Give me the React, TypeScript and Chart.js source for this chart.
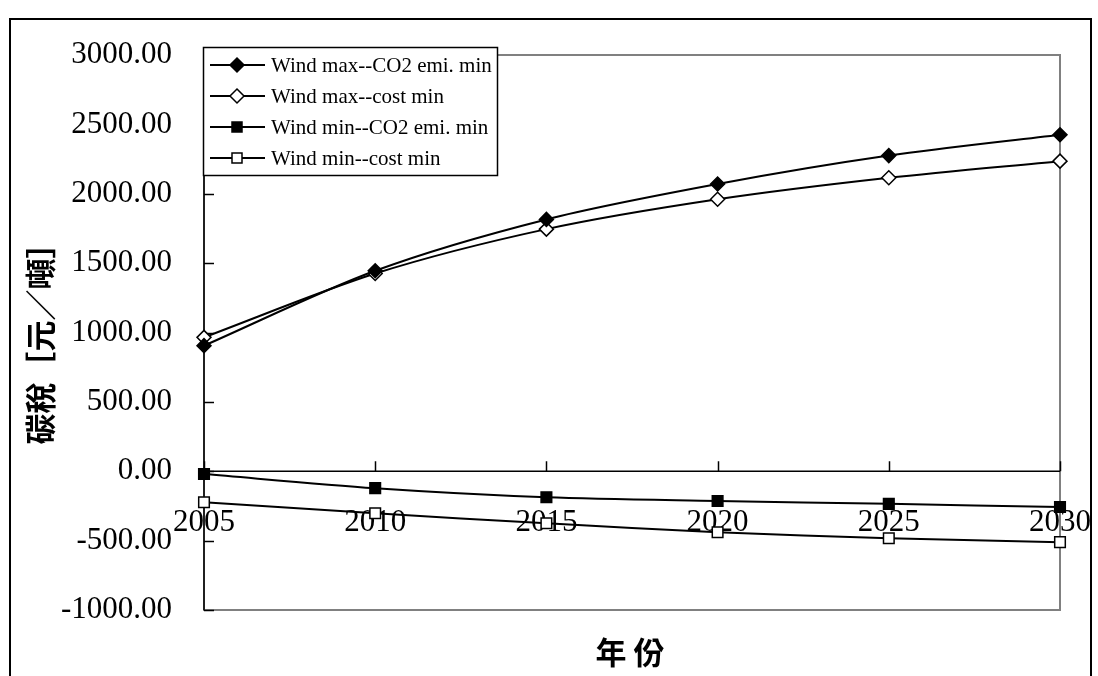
import React, { useEffect, useRef } from "react";
import { Chart, registerables } from "chart.js";

Chart.register(...registerables);

const years = ["2005", "2010", "2015", "2020", "2025", "2030"];
const windMaxCO2 = [905, 1445, 1815, 2070, 2275, 2425];
const windMaxCost = [965, 1425, 1745, 1960, 2115, 2235];
const windMinCO2 = [-20, -122, -187, -214, -235, -258];
const windMinCost = [-223, -303, -375, -440, -483, -511];
const seriesNames = [
  "Wind max--CO2 emi. min",
  "Wind max--cost min",
  "Wind min--CO2 emi. min",
  "Wind min--cost min",
];
const yMin = -1000;
const yMax = 3000;
const yStep = 500;
const yTitle = "碳稅［元／噸］";
const xTitle = "年份";

const SERIF = "'Liberation Serif', 'Times New Roman', serif";
const CJK = "'Noto Sans CJK TC', 'Noto Sans CJK SC', sans-serif";

const decorPlugin = {
  id: "decor",
  beforeDraw(chart: any) {
    const { ctx, chartArea: a } = chart;
    ctx.save();
    ctx.fillStyle = "#fff";
    ctx.fillRect(0, 0, chart.width, chart.height);
    // outer frame
    ctx.strokeStyle = "#000";
    ctx.lineWidth = 2;
    ctx.strokeRect(10, 19, 1081, 700);
    // plot frame
    ctx.strokeStyle = "#808080";
    ctx.lineWidth = 2;
    ctx.strokeRect(a.left, a.top, a.right - a.left, a.bottom - a.top);
    ctx.restore();
  },
  beforeDatasetsDraw(chart: any) {
    const { ctx, chartArea: a, scales } = chart;
    const xs = scales.x;
    const ys = scales.y;
    const y0 = ys.getPixelForValue(0);
    ctx.save();
    ctx.strokeStyle = "#000";
    ctx.lineWidth = 1.5;
    // y axis line
    ctx.beginPath();
    ctx.moveTo(a.left, a.top);
    ctx.lineTo(a.left, a.bottom);
    ctx.stroke();
    // y inward ticks
    for (let v = yMin; v <= yMax; v += yStep) {
      const p = Math.round(ys.getPixelForValue(v)) + 0.5;
      ctx.beginPath();
      ctx.moveTo(a.left, p);
      ctx.lineTo(a.left + 10, p);
      ctx.stroke();
    }
    // zero line (x axis)
    ctx.beginPath();
    ctx.moveTo(a.left, y0);
    ctx.lineTo(a.right, y0);
    ctx.stroke();
    // x ticks upward
    years.forEach((_, i) => {
      const px = Math.round(xs.getPixelForValue(i)) + 0.5;
      ctx.beginPath();
      ctx.moveTo(px, y0);
      ctx.lineTo(px, y0 - 10);
      ctx.stroke();
    });
    // x labels
    ctx.fillStyle = "#000";
    ctx.font = `31px ${SERIF}`;
    ctx.textAlign = "center";
    ctx.textBaseline = "middle";
    years.forEach((lab, i) => {
      ctx.fillText(lab, xs.getPixelForValue(i), y0 + 52);
    });
    // titles
    ctx.font = `bold 31px ${CJK}`;
    ctx.fillText(xTitle.split("").join(" "), 630, 652);
    ctx.save();
    ctx.translate(40, 336);
    ctx.rotate(-Math.PI / 2);
    ctx.fillText(yTitle, 0, 0);
    ctx.restore();
    ctx.restore();
  },
  afterDatasetsDraw(chart: any) {
    const { ctx } = chart;
    const bx = 203, by = 47, bw = 294, bh = 128;
    ctx.save();
    ctx.fillStyle = "#fff";
    ctx.fillRect(bx, by, bw, bh);
    ctx.strokeStyle = "#000";
    ctx.lineWidth = 1.5;
    ctx.strokeRect(bx + 0.5, by + 0.5, bw, bh);
    const rows = [65, 96, 127, 158];
    chart.data.datasets.forEach((ds: any, i: number) => {
      const y = rows[i];
      ctx.strokeStyle = "#000";
      ctx.lineWidth = 2;
      ctx.beginPath();
      ctx.moveTo(210, y);
      ctx.lineTo(265, y);
      ctx.stroke();
      ctx.fillStyle = ds.pointBackgroundColor;
      ctx.lineWidth = 1.5;
      ctx.beginPath();
      if (ds.pointStyle === "rectRot") {
        const r = 7;
        ctx.moveTo(237, y - r);
        ctx.lineTo(237 + r, y);
        ctx.lineTo(237, y + r);
        ctx.lineTo(237 - r, y);
        ctx.closePath();
      } else {
        const h = 5;
        ctx.rect(237 - h, y - h, 2 * h, 2 * h);
      }
      ctx.fill();
      ctx.stroke();
      ctx.fillStyle = "#000";
      ctx.font = `21px ${SERIF}`;
      ctx.textAlign = "left";
      ctx.textBaseline = "middle";
      ctx.fillText(seriesNames[i], 271, y + 1);
    });
    ctx.restore();
  },
};

export default function App() {
  const ref = useRef<HTMLCanvasElement | null>(null);
  useEffect(() => {
    document.body.style.margin = "0";
    const mk = (label: string, data: number[], style: string, filled: boolean) => ({
      label,
      data,
      borderColor: "#000",
      borderWidth: 2,
      pointStyle: style,
      pointRadius: style === "rect" ? 7.5 : 7,
      pointBorderWidth: 1.5,
      pointBorderColor: "#000",
      pointBackgroundColor: filled ? "#000" : "#fff",
      tension: 0.3,
      fill: false,
      clip: false,
    });
    const chart = new Chart(ref.current as HTMLCanvasElement, {
      type: "line",
      data: {
        labels: years,
        datasets: [
          mk(seriesNames[0], windMaxCO2, "rectRot", true),
          mk(seriesNames[1], windMaxCost, "rectRot", false),
          mk(seriesNames[2], windMinCO2, "rect", true),
          mk(seriesNames[3], windMinCost, "rect", false),
        ] as any,
      },
      options: {
        animation: false,
        responsive: false,
        devicePixelRatio: 1,
        layout: { padding: { left: 0, right: 38, top: 55, bottom: 66 } },
        plugins: { legend: { display: false }, tooltip: { enabled: false } },
        scales: {
          x: { display: false, offset: false },
          y: {
            min: yMin,
            max: yMax,
            afterFit: (s: any) => {
              s.width = 204;
            },
            grid: { display: false, drawTicks: false },
            border: { display: false },
            ticks: {
              stepSize: yStep,
              padding: 32,
              color: "#000",
              font: { family: SERIF, size: 31 },
              callback: (v: any) => Number(v).toFixed(2),
            },
          },
        },
      },
      plugins: [decorPlugin],
    });
    return () => chart.destroy();
  }, []);
  return (
    <div style={{ position: "fixed", left: 0, top: 0, width: 1098, height: 676 }}>
      <canvas ref={ref} width={1098} height={676} />
    </div>
  );
}
